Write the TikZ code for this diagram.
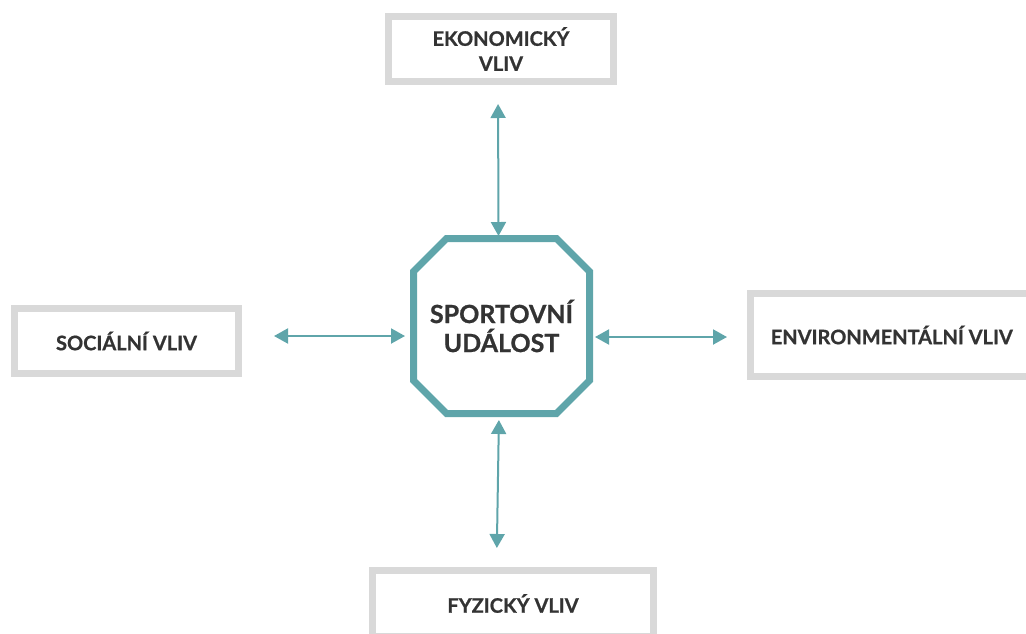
\documentclass[tikz,border=0pt]{standalone}
\usepackage{fontspec}
\setmainfont{Lato}[BoldFeatures={FakeBold=0.8}]
\usetikzlibrary{arrows.meta}
\definecolor{eventteal}{HTML}{5FA5AA}
\definecolor{boxgray}{HTML}{D9D9D9}
\definecolor{labelgray}{HTML}{333333}
\tikzset{
  vliv/.style={draw=boxgray,line width=7pt,text=labelgray,align=center,inner sep=0pt,outer sep=0pt,
    font=\bfseries\fontsize{20}{25}\selectfont},
  link/.style={draw=eventteal,line width=2pt,{Triangle[length=14pt,width=15pt]}-{Triangle[length=14pt,width=15pt]}}
}
\begin{document}
\begin{tikzpicture}[x=1pt,y=-1pt]
  \useasboundingbox (0,0) rectangle (1026,633);
  \node[minimum width=176pt,minimum height=175pt,inner sep=0pt,outer sep=0pt,text=labelgray,align=center,
    font=\bfseries\fontsize{25}{29}\selectfont] (event) at (501.5,326) {SPORTOVNÍ\\UDÁLOST};
  \draw[eventteal,line width=7pt] ([xshift=33pt]event.north west) -- ([xshift=-33pt]event.north east)
    -- ([yshift=-33pt]event.north east) -- ([yshift=33pt]event.south east)
    -- ([xshift=-33pt]event.south east) -- ([xshift=33pt]event.south west)
    -- ([yshift=33pt]event.south west) -- ([yshift=-33pt]event.north west) -- cycle;
  \node[vliv,minimum width=225pt,minimum height=65pt] (econ) at (501,49) {EKONOMICKÝ\\VLIV};
  \node[vliv,minimum width=224pt,minimum height=65pt] (social) at (126.5,341) {SOCIÁLNÍ VLIV};
  \node[vliv,minimum width=282.5pt,minimum height=83pt] (envi) at (891.75,335) {ENVIRONMENTÁLNÍ VLIV};
  \node[vliv,minimum width=281pt,minimum height=66pt] (phys) at (513,603.5) {FYZICKÝ VLIV};
  \draw[link,shorten <=22.5pt,shorten >=2.5pt] ([xshift=-3pt]econ.south) -- ([xshift=-3pt]event.north);
  \draw[link,shorten <=35.5pt,shorten >=8.5pt] ([yshift=5pt]social.east) -- ([yshift=-10pt]event.west);
  \draw[link,shorten <=5.5pt,shorten >=23.5pt] ([yshift=-11pt]event.east) -- ([yshift=-2pt]envi.west);
  \draw[link,shorten <=6.5pt,shorten >=22.5pt] ([xshift=-2.5pt]event.south) -- ([xshift=-16.5pt]phys.north);
\end{tikzpicture}
\end{document}
